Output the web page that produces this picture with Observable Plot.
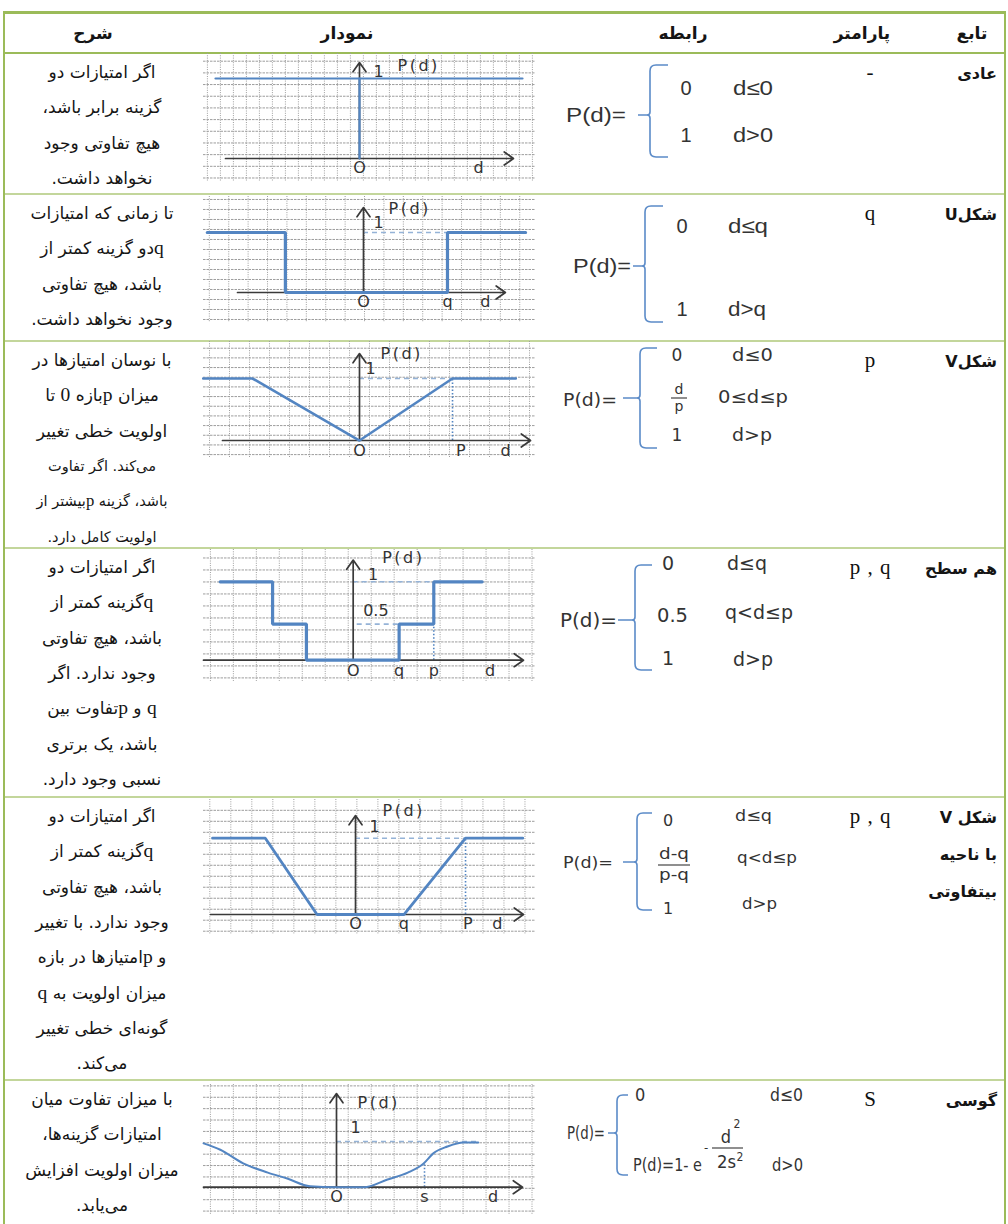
<!DOCTYPE html>
<html><head><meta charset="utf-8">
<script src="https://cdn.jsdelivr.net/npm/d3@7"></script>
<script src="https://cdn.jsdelivr.net/npm/@observablehq/plot@0.6"></script>
<style>
body{margin:0;background:#fff;}
#wrap{position:relative;width:1008px;height:1224px;overflow:hidden;background:#fff;}
.abs{position:absolute;}
.fa{font-family:"DejaVu Sans",sans-serif;direction:rtl;white-space:nowrap;color:#151515;}
.lat{font-family:"Liberation Serif",serif;font-size:1.15em;}
</style></head><body><div id="wrap"></div>
<script>
// ---------------- DATA ----------------
const headerLabels = ["تابع", "پارامتر", "رابطه", "نمودار", "شرح"];
const functionNames = [["عادی"], ["شکلU"], ["شکلV"], ["هم سطح"], ["شکل V", "با ناحیه", "بیتفاوتی"], ["گوسی"]];
const parameterLabels = ["-", "q", "p", "p , q", "p , q", "S"];
const descriptions = [
  ["اگر امتیازات دو", "گزینه برابر باشد،", "هیچ تفاوتی وجود", "نخواهد داشت."],
  ["تا زمانی که امتیازات", "qدو گزینه کمتر از", "باشد، هیچ تفاوتی", "وجود نخواهد داشت."],
  ["با نوسان امتیازها در", "میزان pبازه 0 تا", "اولویت خطی تغییر", "می‌کند. اگر تفاوت", "باشد، گزینه pبیشتر از", "اولویت کامل دارد."],
  ["اگر امتیازات دو", "qگزینه کمتر از", "باشد، هیچ تفاوتی", "وجود ندارد. اگر", "q و pتفاوت بین", "باشد، یک برتری", "نسبی وجود دارد."],
  ["اگر امتیازات دو", "qگزینه کمتر از", "باشد، هیچ تفاوتی", "وجود ندارد. با تغییر", "و pامتیازها در بازه", "میزان اولویت به q", "گونه‌ای خطی تغییر", "می‌کند."],
  ["با میزان تفاوت میان", "امتیازات گزینه‌ها،", "میزان اولویت افزایش", "می‌یابد."]
];

// curves: d (in units of the row's parameter), P(d)
const normalD = [-1.44, 1.63];
const normalP = [1, 1];
const normalStemD = [0, 0];
const normalStemP = [0, 1];
const uShapeD = [-1.86, -0.93, -0.93, 1, 1, 1.93];
const uShapeP = [1, 1, 0, 0, 1, 1];
const vShapeD = [-1.68, -1.15, 0, 1, 1.68];
const vShapeP = [1, 1, 0, 1, 1];
const levelD = [-1.65, -1.0, -1.0, -0.58, -0.58, 0.57, 0.57, 1, 1, 1.6];
const levelP = [1, 1, 0.46, 0.46, 0, 0, 0.46, 0.46, 1, 1];
const vIndiffD = [-1.3, -0.82, -0.35, 0.44, 1, 1.52];
const vIndiffP = [1, 1, 0, 0, 1, 1];
const gaussD = [-1.51, -1.32, -1.06, -0.78, -0.56, -0.30, 0, 0.31, 0.58, 0.81, 0.99, 1.10, 1.26, 1.44, 1.61];
const gaussP = [0.96, 0.82, 0.52, 0.32, 0.19, 0.02, 0, 0, 0.17, 0.32, 0.52, 0.74, 0.89, 0.98, 0.98];

// axis tick labels and their d values
const tickLabels = [["O", "d"], ["O", "q", "d"], ["O", "P", "d"], ["O", "q", "p", "d"], ["O", "q", "P", "d"], ["O", "s", "d"]];
const tickValues = [[0, 1.19], [0, 1, 1.45], [0, 1.09, 1.57], [0, 0.57, 1, 1.70], [0, 0.44, 1.02, 1.29], [0, 1, 1.78]];
const yLabelText = "P(d)";
const levelLabels = [["1"], ["1"], ["1"], ["1", "0.5"], ["1"], ["1"]];
const levelValues = [[1], [1], [1], [1, 0.46], [1], [1]];

// ---------------- LAYOUT ----------------
const W = 1008;
const rowTops = [53, 194, 341, 548, 797, 1080];
const tableBottom = 1228;
const wrap = document.getElementById("wrap");

function addDiv(css, html, cls) {
  const d = document.createElement("div");
  d.className = "abs " + (cls || "");
  d.style.cssText = css;
  d.innerHTML = html;
  wrap.appendChild(d);
  return d;
}
function faHtml(s) {
  return s.replace(/([qpS0-9])/g, '<span class="lat">$1</span>');
}
// table lines
const green = "#9bbb59", lightGreen = "#c3d69b";
addDiv(`left:3px;top:11px;width:1003px;height:3px;background:${green}`, "");
addDiv(`left:3px;top:52px;width:1003px;height:2px;background:${green}`, "");
rowTops.slice(1).forEach(t => addDiv(`left:3px;top:${t - 1}px;width:1003px;height:2px;background:${lightGreen}`, ""));
addDiv(`left:3px;top:11px;width:2px;height:${tableBottom - 11}px;background:${green}`, "");
addDiv(`left:1004px;top:11px;width:2px;height:${tableBottom - 11}px;background:${green}`, "");

// header
const headerCenters = [972, 862, 683, 347, 93];
headerLabels.forEach((h, i) => addDiv(`left:${headerCenters[i] - 60}px;width:120px;top:19px;height:28px;line-height:28px;text-align:center;font-weight:bold;font-size:17px`, h, "fa"));

// function names, parameters, descriptions
functionNames.forEach((lines, r) => lines.forEach((l, k) =>
  addDiv(`right:${W - 997}px;top:${rowTops[r] + 7 + k * 37}px;height:28px;line-height:28px;text-align:right;font-weight:bold;font-size:16px`, faHtml(l), "fa")));
parameterLabels.forEach((p, r) =>
  addDiv(`left:810px;width:120px;top:${rowTops[r] + 6}px;height:26px;line-height:26px;text-align:center;font-family:'Liberation Serif',serif;font-size:21px;word-spacing:2px;color:#111`, p));
descriptions.forEach((lines, r) => lines.forEach((l, k) => {
  const small = r === 2 && k >= 3;
  addDiv(`left:5px;width:194px;top:${rowTops[r] + 5 + k * 35.3}px;height:28px;line-height:28px;text-align:center;font-size:${small ? 14.5 : 17}px`, faHtml(l), "fa");
}));

// ---------------- CHARTS ----------------
const blue = "#5385c2", paleBlue = "#95b3d7", axisColor = "#3a3a3a", gridColor = "#9d9d9d";
const chartCfg = [
  {top: 53, height: 128, x: [-1.56, 1.76], y: [-0.2875, 1.3125], dx: 0.13, dy: 0.146, ax: [-1.34, 1.54], ayTop: 1.2,
   series: [[normalD, normalP], [normalStemD, normalStemP]], sw: 2.2, tickDy: 9, one: [[19, -7]], pd: [38, 3], guides: [], dots: []},
  {top: 196, height: 126, x: [-1.905, 2.048], y: [-0.5, 1.6], dx: 0.231, dy: 0.1667, ax: [-1.5, 1.69], ayTop: 1.417,
   series: [[uShapeD, uShapeP]], sw: 3.2, tickDy: 9, one: [[15, -10]], pd: [25, 1], guides: [[0, 1, 1]], dots: []},
  {top: 341, height: 116, x: [-1.677, 1.892], y: [-0.274, 1.597], dx: 0.215, dy: 0.156, ax: [-1.473, 1.839], ayTop: 1.403,
   series: [[vShapeD, vShapeP]], sw: 2.6, tickDy: 10, one: [[11, -10]], pd: [21, 0], guides: [[0, 1, 1]], dots: [[1, 0, 1]]},
  {top: 549, height: 132, x: [-1.857, 2.262], y: [-0.272, 1.412], dx: 0.285, dy: 0.153, ax: [-1.857, 2.113], ayTop: 1.278,
   series: [[levelD, levelP]], sw: 3.2, tickDy: 11, one: [[20, -7], [10, -13]], pd: [29, -2], guides: [[0, 1, 1], [0.05, 0.57, 0.46]], dots: [[1, 0, 0.46]]},
  {top: 799, height: 135, x: [-1.382, 1.636], y: [-0.262, 1.507], dx: 0.191, dy: 0.144, ax: [-1.318, 1.527], ayTop: 1.297,
   series: [[vIndiffD, vIndiffP]], sw: 2.8, tickDy: 9, one: [[19, -11]], pd: [27, -5], guides: [[0, 1, 1]], dots: [[1, 0, 1]]},
  {top: 1084, height: 130, x: [-1.511, 2.261], y: [-0.597, 2.247], dx: 0.261, dy: 0.249, ax: [-1.511, 2.114], ayTop: 2.05,
   series: [[gaussD, gaussP]], sw: 2.0, tickDy: 10, one: [[19, -14]], pd: [21, 9], guides: [[0, 1.61, 1]], dots: [[1, 0, 0.52]], smooth: true}
];

chartCfg.forEach((c, r) => {
  const gx = d3.range(c.x[0] + c.dx * 0.3, c.x[1], c.dx);
  const gy = d3.range(c.y[0] + c.dy * 0.3, c.y[1], c.dy);
  const lineData = c.series.flatMap(([D, P], s) => D.map((d, i) => ({d, P: P[i], s})));
  const ticks = tickLabels[r].map((t, i) => ({t, d: tickValues[r][i]}));
  const levels = levelLabels[r].map((t, i) => ({t, P: levelValues[r][i], dx: c.one[i][0], dy: c.one[i][1], anchor: i === 0 ? "middle" : "start"}));
  const marks = [
    Plot.ruleX(gx, {stroke: gridColor, strokeWidth: 1, strokeDasharray: "1,1.3"}),
    Plot.ruleY(gy, {stroke: gridColor, strokeWidth: 1, strokeDasharray: "2.5,1"}),
    Plot.ruleY(c.guides.map(([a, b, p]) => ({a, b, p})), {y: "p", x1: "a", x2: "b", stroke: paleBlue, strokeWidth: 1.6, strokeDasharray: "5,4"}),
    Plot.ruleX(c.dots.map(([d, a, b]) => ({d, a, b})), {x: "d", y1: "a", y2: "b", stroke: blue, strokeWidth: 1.6, strokeDasharray: "1.5,2"}),
    Plot.arrow([{x1: c.ax[0], y1: 0, x2: c.ax[1], y2: 0}, {x1: 0, y1: 0, x2: 0, y2: c.ayTop}],
      {x1: "x1", y1: "y1", x2: "x2", y2: "y2", stroke: axisColor, strokeWidth: 1.7, headLength: 10, headAngle: 70}),
    Plot.line(lineData, {x: "d", y: "P", z: "s", stroke: blue, strokeWidth: c.sw, curve: c.smooth ? "monotone-x" : "linear", strokeLinejoin: "miter"}),
    Plot.text(ticks, {x: "d", y: 0, text: "t", dy: c.tickDy, fontSize: 16, fontFamily: "DejaVu Sans", fill: "#333"}),
    ...levels.map(l => Plot.text([l], {x: 0, y: "P", text: "t", dx: l.dx, dy: l.dy, textAnchor: l.anchor, fontSize: 16, fontFamily: "DejaVu Sans", fill: "#333"})),
    Plot.text([{t: yLabelText, P: c.ayTop}], {x: 0, y: "P", text: "t", dx: c.pd[0], dy: c.pd[1], textAnchor: "start", fontSize: 16, fontFamily: "DejaVu Sans", fill: "#333"})
  ];
  const svg = Plot.plot({
    width: 332, height: c.height, margin: 0,
    x: {domain: c.x, axis: null}, y: {domain: c.y, axis: null},
    style: {background: "transparent", overflow: "visible"},
    marks
  });
  svg.querySelectorAll("text").forEach(t => { if (t.textContent === yLabelText) t.style.letterSpacing = "2.5px"; });
  const holder = addDiv(`left:203px;top:${c.top}px;width:332px;height:${c.height}px`, "");
  holder.appendChild(svg);
});

// ---------------- FORMULAS ----------------
const VER = "DejaVu Sans", ARI = "Liberation Sans", NAR = "'Liberation Sans Narrow','DejaVu Sans Condensed',sans-serif";
const formulas = [
  {brace: [650, 65, 157, 115, 18, 12], items: [
    {t: "P(d)=", x: 566, y: 122, s: 20, w: 60, f: ARI}, {t: "0", x: 686, y: 95, s: 20, a: "middle", f: ARI}, {t: "d≤0", x: 733, y: 95, s: 20, w: 40, f: ARI},
    {t: "1", x: 686, y: 142, s: 20, a: "middle", f: ARI}, {t: "d>0", x: 733, y: 142, s: 20, w: 40, f: ARI}]},
  {brace: [645, 206, 322, 266, 18, 12], items: [
    {t: "P(d)=", x: 573, y: 273, s: 20, w: 58, f: ARI}, {t: "0", x: 682, y: 233, s: 20, a: "middle", f: ARI}, {t: "d≤q", x: 728, y: 233, s: 20, w: 40, f: ARI},
    {t: "1", x: 682, y: 316, s: 20, a: "middle", f: ARI}, {t: "d>q", x: 728, y: 316, s: 20, w: 38, f: ARI}]},
  {brace: [640, 348, 448, 398, 17, 17], items: [
    {t: "P(d)=", x: 563, y: 406, s: 17, w: 54, f: VER}, {t: "0", x: 677, y: 361, s: 17, a: "middle", f: VER}, {t: "d≤0", x: 732, y: 361, s: 17, w: 41, f: VER},
    {t: "d", x: 679, y: 394, s: 14, a: "middle", f: VER}, {bar: [671, 687, 398]}, {t: "p", x: 679, y: 411, s: 14, a: "middle", f: VER},
    {t: "0≤d≤p", x: 718, y: 403, s: 17, w: 70, f: VER},
    {t: "1", x: 677, y: 441, s: 17, a: "middle", f: VER}, {t: "d>p", x: 732, y: 441, s: 17, w: 40, f: VER}]},
  {brace: [635, 565, 670, 620, 17, 17], items: [
    {t: "P(d)=", x: 560, y: 627, s: 19, w: 57, f: VER}, {t: "0", x: 668, y: 570, s: 19, a: "middle", f: VER}, {t: "d≤q", x: 727, y: 570, s: 19, w: 40, f: VER},
    {t: "0.5", x: 657, y: 622, s: 19, w: 31, f: VER}, {t: "q<d≤p", x: 725, y: 619, s: 19, w: 68, f: VER},
    {t: "1", x: 668, y: 665, s: 19, a: "middle", f: VER}, {t: "d>p", x: 733, y: 666, s: 19, w: 40, f: VER}]},
  {brace: [637, 813, 910, 862, 15, 14], items: [
    {t: "P(d)=", x: 563, y: 868, s: 16, w: 50, f: VER}, {t: "0", x: 668, y: 826, s: 16, a: "middle", f: VER}, {t: "d≤q", x: 735, y: 821, s: 16, w: 37, f: VER},
    {t: "d-q", x: 674, y: 859, s: 16, a: "middle", w: 30, f: VER}, {bar: [658, 690, 865]}, {t: "p-q", x: 674, y: 880, s: 16, a: "middle", w: 30, f: VER},
    {t: "q<d≤p", x: 737, y: 863, s: 16, w: 60, f: VER},
    {t: "1", x: 668, y: 914, s: 16, a: "middle", f: VER}, {t: "d>p", x: 742, y: 909, s: 16, w: 35, f: VER}]},
  {brace: [617, 1095, 1175, 1133, 11, 9], items: [
    {t: "P(d)=", x: 567, y: 1139, s: 18, w: 38, f: NAR}, {t: "0", x: 635, y: 1101, s: 18, f: NAR}, {t: "d≤0", x: 770, y: 1101, s: 18, w: 33, f: NAR},
    {t: "P(d)=1- e", x: 633, y: 1171, s: 18, w: 69, f: NAR}, {t: "-", x: 706, y: 1152, s: 13, a: "middle", f: NAR},
    {t: "d", x: 726, y: 1143, s: 18, a: "middle", f: NAR}, {t: "2", x: 737, y: 1128, s: 12, a: "middle", f: NAR},
    {bar: [712, 743, 1148]}, {t: "2s", x: 717, y: 1168, s: 17, w: 19, f: NAR}, {t: "2", x: 740, y: 1161, s: 12, a: "middle", f: NAR},
    {t: "d>0", x: 772, y: 1171, s: 18, w: 31, f: NAR}]}
];
const fsvg = d3.create("svg").attr("width", W).attr("height", 1224)
  .style("position", "absolute").style("left", "0px").style("top", "0px").style("pointer-events", "none");
formulas.forEach(F => {
  const [x, top, bottom, mid, hook, tick] = F.brace;
  const r = 6;
  fsvg.append("path").attr("fill", "none").attr("stroke", "#5b8bc8").attr("stroke-width", 1.6)
    .attr("d", `M${x + hook},${top}H${x + r}Q${x},${top} ${x},${top + r}V${mid - 3}Q${x},${mid} ${x - 3},${mid}H${x - tick}M${x - 3},${mid}Q${x},${mid} ${x},${mid + 3}V${bottom - r}Q${x},${bottom} ${x + r},${bottom}H${x + hook}`);
  F.items.forEach(it => {
    if (it.bar) {
      fsvg.append("line").attr("x1", it.bar[0]).attr("x2", it.bar[1]).attr("y1", it.bar[2]).attr("y2", it.bar[2]).attr("stroke", "#444").attr("stroke-width", 1.2);
      return;
    }
    const t = fsvg.append("text").attr("x", it.x).attr("y", it.y).attr("font-size", it.s).attr("font-family", it.f)
      .attr("fill", "#333").attr("text-anchor", it.a || "start").text(it.t);
    if (it.w) t.attr("textLength", it.w).attr("lengthAdjust", "spacingAndGlyphs");
  });
});
wrap.appendChild(fsvg.node());
</script></body></html>
